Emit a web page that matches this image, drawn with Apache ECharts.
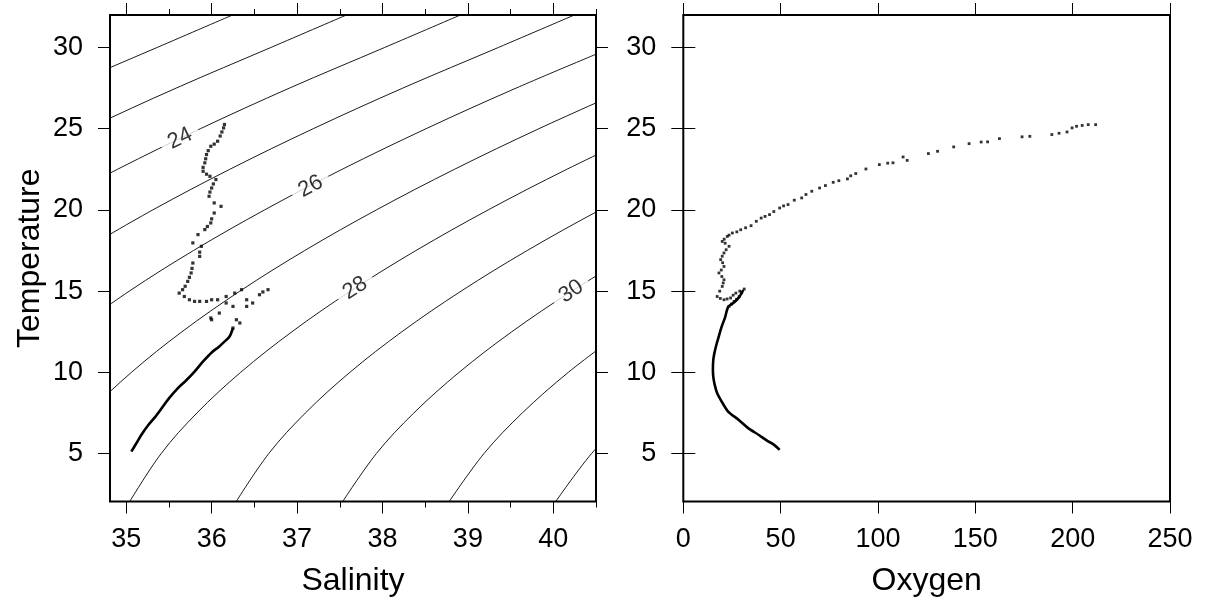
<!DOCTYPE html>
<html>
<head>
<meta charset="utf-8">
<script src="https://cdn.jsdelivr.net/npm/echarts@6/dist/echarts.min.js"></script>
<style>html,body{margin:0;padding:0;background:#fff}#c{width:1209px;height:606px}</style>
</head>
<body>
<div id="c"></div>
<script>
// ---------- tick labels ----------
const salinityTicks = [35, 36, 37, 38, 39, 40];
const salinityHalfTicks = [35, 35.5, 36, 36.5, 37, 37.5, 38, 38.5, 39, 39.5, 40, 40.5];
const temperatureTicks = [5, 10, 15, 20, 25, 30];

// ---------- density (sigma-theta) contours, [salinity, temperature] ----------
const contourLevels = [22, 23, 24, 25, 26, 27, 28, 29, 30, 31, 32];
const sigma22 = [[33.2255,25],[34.258,27.5],[35.3615,30],[36.2449,32]];
const sigma23 = [[33.5818,22.5],[34.5467,25],[35.5846,27.5],[36.6934,30],[37.5788,32]];
const sigma24 = [[34.0012,20],[34.897,22.5],[35.8679,25],[36.9112,27.5],[38.0253,30],[38.9127,32]];
const sigma25 = [[34.4852,17.5],[35.3103,20],[36.2123,22.5],[37.1891,25],[38.2379,27.5],[39.3572,30],[40.2466,32]];
const sigma26 = [[34.3657,12.5],[35.0352,15],[35.7875,17.5],[36.6193,20],[37.5276,22.5],[38.5103,25],[39.5645,27.5],[40.6891,30]];
const sigma27 = [[34.149,5],[34.5581,7.5],[35.0607,10],[35.6529,12.5],[36.3302,15],[37.0897,17.5],[37.9284,20],[38.8428,22.5],[39.8314,25],[40.8911,27.5]];
const sigma28 = [[35.0352,2],[35.4088,5],[35.8278,7.5],[36.3395,10],[36.9401,12.5],[37.6252,15],[38.392,17.5],[39.2375,20],[40.1581,22.5],[41.1526,25]];
const sigma29 = [[36.2819,2],[36.6686,5],[37.0975,7.5],[37.6183,10],[38.2272,12.5],[38.9202,15],[39.6943,17.5],[40.5466,20],[41.4734,22.5]];
const sigma30 = [[37.5286,2],[37.9283,5],[38.3672,7.5],[38.897,10],[39.5143,12.5],[40.2152,15],[40.9965,17.5]];
const sigma31 = [[38.7753,2],[39.1881,5],[39.6369,7.5],[40.1758,10],[40.8015,12.5]];
const sigma32 = [[40.022,2],[40.4478,5],[40.9066,7.5]];
const contourPaths = [sigma22, sigma23, sigma24, sigma25, sigma26, sigma27, sigma28, sigma29, sigma30, sigma31, sigma32];

// contour labels: text, salinity, temperature, angle
const contourLabelText = ['24', '26', '28', '30'];
const contourLabelS = [35.63, 37.16, 37.68, 40.21];
const contourLabelT = [24.4, 21.45, 15.18, 14.98];
const contourLabelAngle = [26, 28, 32, 34];

// ---------- T-S profile: sparse samples (upper water column) ----------
const tsSparseSalinity = [36.15,36.14,36.12,36.10,36.07,36.03,35.99,35.96,35.94,35.93,35.92,35.90,35.90,35.94,35.98,36.05,36.02,36.00,35.98,35.97,36.03,36.11,36.03,36.00,35.99,35.95,35.92,35.84,35.78,35.88,35.86,35.86,35.78,35.77,35.76,35.74,35.72,35.69,35.66,35.62,35.68,35.74,35.80,35.86,35.94,36.00,36.07,36.17,36.27,36.35,36.17,36.09,36.00,35.99,36.25,36.41,36.66,36.60,36.56,36.48,36.41,36.33,36.29,36.25];
const tsSparseTemperature = [25.26,25.05,24.80,24.55,24.23,24.05,23.92,23.65,23.41,23.15,22.90,22.62,22.38,22.20,22.07,21.87,21.60,21.35,21.10,20.84,20.43,20.22,19.81,19.45,19.20,18.98,18.79,18.48,17.97,17.76,17.40,17.14,16.73,16.40,16.12,15.85,15.60,15.30,15.09,14.88,14.67,14.47,14.37,14.37,14.37,14.47,14.47,14.67,14.88,15.09,14.27,13.65,13.24,13.35,14.06,14.47,15.09,14.95,14.78,14.27,14.06,13.04,13.24,12.73];
// ---------- T-S profile: dense samples (deeper water column) ----------
const tsDenseSalinity = [36.25,36.21,36.15,36.08,36.01,35.90,35.80,35.70,35.60,35.50,35.43,35.33,35.25,35.19,35.12,35.06];
const tsDenseTemperature = [12.73,12.21,11.89,11.55,11.27,10.67,10.05,9.50,9.00,8.40,7.90,7.20,6.70,6.25,5.65,5.12];

// ---------- Oxygen-T profile ----------
const otSparseOxygen = [211.8,208,204.9,202,199.7,197.1,193,189.3,178.0,174,162.4,156.3,153,146.8,138.9,130.6,125.9,115,112.9,107.7,105,100.7,93.8,88.6,86,84.3,79.9,77,73.0,70,66.0,63,60.8,57,53.8,51.5,49.5,46.5,44.3,42,40.0,37.5,34.8,32,29.5,27.5,25.2,23.5,22.6,21,20.0,21.5,23.5,22,20.9,20,19.2,20.2,20.9,19.5,18.3,19.8,20.9,20.5,20.0,18.7,17.4,19,20.9,22.5,24.3,25.6,27.0,29,31.3,30,28.7,27.3,26.1,24.7,23.5];
const otSparseTemperature = [25.25,25.25,25.2,25.15,25.05,24.8,24.72,24.64,24.53,24.5,24.39,24.19,24.18,24.08,23.88,23.61,23.47,23.05,23.26,22.9,22.88,22.79,22.52,22.24,22.1,21.91,21.8,21.7,21.5,21.35,21.15,20.95,20.74,20.6,20.33,20.25,20.12,19.9,19.71,19.6,19.5,19.3,19.03,18.9,18.78,18.65,18.58,18.45,18.37,18.2,18.06,17.95,17.76,17.55,17.35,17.15,16.94,16.75,16.52,16.3,16.12,15.9,15.7,15.5,15.29,15.0,14.67,14.55,14.47,14.52,14.58,14.75,14.88,15.0,15.13,14.9,14.67,14.5,14.37,14.2,14.06];
const otDenseOxygen = [30.8,28.5,26,23.1,21.5,19.7,18.2,17.2,16.0,15.4,15.2,15.4,16.2,17.4,19.2,22.8,28.5,33,39,43,46.5,49.5];
const otDenseTemperature = [15.07,14.6,14.3,14.04,13.4,12.81,12.2,11.79,11.2,10.76,10.2,9.73,9.2,8.71,8.31,7.62,7.07,6.6,6.13,5.8,5.55,5.23];

// ---------- build options ----------
const FONT = "'Liberation Sans', Arial, Helvetica, sans-serif";
const BLACK = '#000';
const zip = (a, b) => a.map((v, i) => [v, b[i]]);

function axis(o) {
  return Object.assign({
    type: 'value',
    axisLine: { show: false },
    splitLine: { show: false },
    axisTick: { show: true, length: 12, lineStyle: { color: BLACK, width: 1 } },
    axisLabel: { show: false },
    nameTextStyle: { fontSize: 32, color: BLACK, fontFamily: FONT }
  }, o);
}
const tickLabel = { show: true, fontSize: 27, color: BLACK, fontFamily: FONT };

const xAxes = [
  axis({ gridIndex: 0, position: 'bottom', min: 34.81, max: 40.5,
    axisTick: { show: true, length: 12, lineStyle: { color: BLACK, width: 1 }, customValues: salinityTicks },
    axisLabel: Object.assign({ customValues: salinityTicks, margin: 25 }, tickLabel),
    name: 'Salinity', nameLocation: 'middle', nameGap: 64 }),
  axis({ gridIndex: 0, position: 'bottom', min: 34.81, max: 40.5,
    axisTick: { show: true, length: 6, lineStyle: { color: BLACK, width: 1 }, customValues: salinityHalfTicks } }),
  axis({ gridIndex: 0, position: 'top', min: 34.81, max: 40.5,
    axisTick: { show: true, length: 12, lineStyle: { color: BLACK, width: 1 }, customValues: salinityTicks } }),
  axis({ gridIndex: 0, position: 'top', min: 34.81, max: 40.5,
    axisTick: { show: true, length: 6, lineStyle: { color: BLACK, width: 1 }, customValues: salinityHalfTicks } }),
  axis({ gridIndex: 1, position: 'bottom', min: 0, max: 250, interval: 50,
    axisLabel: Object.assign({ margin: 25 }, tickLabel),
    name: 'Oxygen', nameLocation: 'middle', nameGap: 64 }),
  axis({ gridIndex: 1, position: 'top', min: 0, max: 250, interval: 50 })
];
const yAxes = [
  axis({ gridIndex: 0, position: 'left', min: 2.05, max: 32,
    axisTick: { show: true, length: 12, lineStyle: { color: BLACK, width: 1 }, customValues: temperatureTicks },
    axisLabel: Object.assign({ customValues: temperatureTicks, margin: 27 }, tickLabel),
    name: 'Temperature', nameLocation: 'middle', nameGap: 64 }),
  axis({ gridIndex: 0, position: 'right', min: 2.05, max: 32,
    axisTick: { show: true, length: 12, lineStyle: { color: BLACK, width: 1 }, customValues: temperatureTicks } }),
  axis({ gridIndex: 1, position: 'left', min: 2.05, max: 32,
    axisTick: { show: true, length: 12, lineStyle: { color: BLACK, width: 1 }, customValues: temperatureTicks },
    axisLabel: Object.assign({ customValues: temperatureTicks, margin: 27 }, tickLabel) }),
  axis({ gridIndex: 1, position: 'right', min: 2.05, max: 32,
    axisTick: { show: true, length: 12, lineStyle: { color: BLACK, width: 1 }, customValues: temperatureTicks } })
];

const series = [];
contourPaths.forEach((path, i) => {
  series.push({
    name: 'sigma ' + contourLevels[i], type: 'line', xAxisIndex: 0, yAxisIndex: 0,
    data: path, showSymbol: false, smooth: 0.35, clip: true, silent: true,
    lineStyle: { color: BLACK, width: 0.9 }, z: 2
  });
});
series.push({
  type: 'scatter', xAxisIndex: 0, yAxisIndex: 0, silent: true, z: 3,
  symbolSize: 1, itemStyle: { color: 'rgba(0,0,0,0)' },
  data: contourLabelText.map((t, i) => ({
    value: [contourLabelS[i], contourLabelT[i]],
    label: { show: true, formatter: t, rotate: contourLabelAngle[i], position: 'inside',
      fontSize: 22, color: BLACK, fontFamily: FONT, backgroundColor: '#fff', padding: [0, 8] }
  }))
});
series.push({
  type: 'scatter', xAxisIndex: 0, yAxisIndex: 0, silent: true, z: 4,
  symbol: 'rect', symbolSize: 3.2, itemStyle: { color: BLACK },
  data: zip(tsSparseSalinity, tsSparseTemperature)
});
series.push({
  type: 'line', xAxisIndex: 0, yAxisIndex: 0, silent: true, z: 4,
  showSymbol: false, smooth: 0.3, lineStyle: { color: BLACK, width: 2.6 },
  data: zip(tsDenseSalinity, tsDenseTemperature)
});
series.push({
  type: 'scatter', xAxisIndex: 4, yAxisIndex: 2, silent: true, z: 4,
  symbol: 'rect', symbolSize: 2.8, itemStyle: { color: BLACK },
  data: zip(otSparseOxygen, otSparseTemperature)
});
series.push({
  type: 'line', xAxisIndex: 4, yAxisIndex: 2, silent: true, z: 4,
  showSymbol: false, smooth: 0.3, lineStyle: { color: BLACK, width: 2.6 },
  data: zip(otDenseOxygen, otDenseTemperature)
});

const chart = echarts.init(document.getElementById('c'), null, { renderer: 'canvas' });
chart.setOption({
  animation: false,
  backgroundColor: '#fff',
  textStyle: { fontFamily: FONT },
  grid: [
    { left: 110, top: 15, width: 486, height: 486.5, show: true, borderColor: BLACK, borderWidth: 2, backgroundColor: 'transparent' },
    { left: 683.3, top: 15, width: 486.7, height: 486.5, show: true, borderColor: BLACK, borderWidth: 2, backgroundColor: 'transparent' }
  ],
  xAxis: xAxes,
  yAxis: yAxes,
  series: series
});
</script>
</body>
</html>
